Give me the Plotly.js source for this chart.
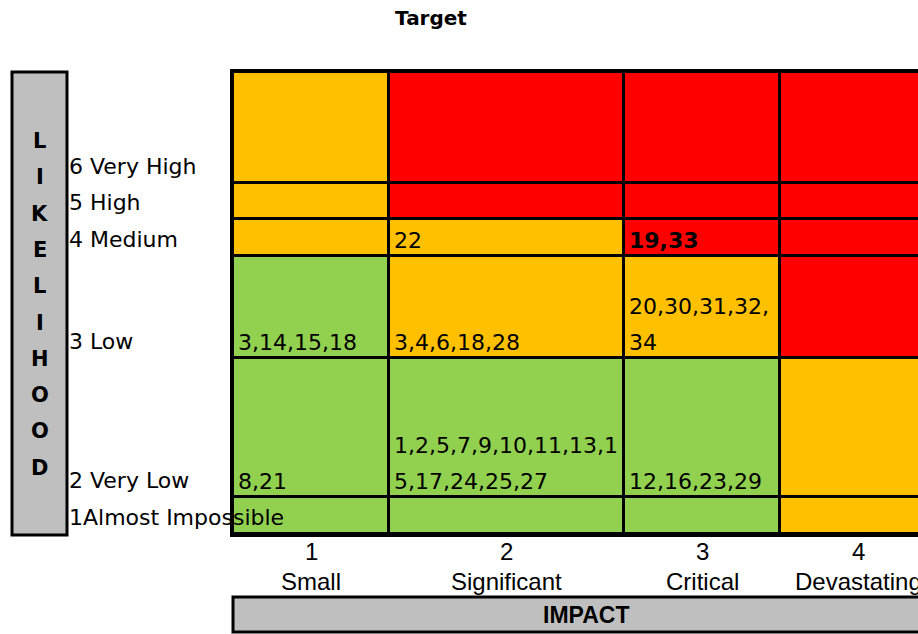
<!DOCTYPE html>
<html>
<head>
<meta charset="utf-8">
<script src="https://cdn.plot.ly/plotly-3.0.1.min.js"></script>
<style>
  html, body { margin: 0; padding: 0; background: #ffffff; overflow: hidden; }
  #chart { width: 918px; height: 634px; }
</style>
</head>
<body>
<div id="chart"></div>
<script>
// ---------------- data ----------------
const chartTitle = 'Target';
const impactLevels = ['1', '2', '3', '4'];
const impactNames = ['Small', 'Significant', 'Critical', 'Devastating'];
const likelihoodLabels = ['1Almost Impossible', '2 Very Low', '3 Low', '4 Medium', '5 High', '6 Very High'];
const likelihoodTitle = 'LIKELIHOOD';
const impactTitle = 'IMPACT';
// risk level per cell (0 = low/green, 1 = medium/amber, 2 = high/red), rows from likelihood 1 upwards
const riskLevel = [
  [0, 0, 0, 1],
  [0, 0, 0, 1],
  [0, 1, 1, 2],
  [1, 1, 2, 2],
  [1, 2, 2, 2],
  [1, 2, 2, 2]
];
// risk ids in each cell (rows from likelihood 1 upwards), "\n" = wrapped line
const cellRisks = [
  ['', '', '', ''],
  ['8,21', '1,2,5,7,9,10,11,13,1\n5,17,24,25,27', '12,16,23,29', ''],
  ['3,14,15,18', '3,4,6,18,28', '20,30,31,32,\n34', ''],
  ['', '22', '<b>19,33</b>', ''],
  ['', '', '', ''],
  ['', '', '', '']
];

// ---------------- layout geometry (pixels) ----------------
const W = 918, H = 634;
const ml = 233, mt = 72, pw = 685, ph = 462;
const mr = W - ml - pw, mb = H - mt - ph;
const colWidths = [156, 235, 156, 156];
const rowHeights = [37, 139, 102, 37, 36, 111];
const colEdges = [0];
colWidths.forEach(w => colEdges.push(colEdges[colEdges.length - 1] + w));
const rowEdges = [0];
rowHeights.forEach(h => rowEdges.push(rowEdges[rowEdges.length - 1] + h));
const px = x => (x - ml) / pw;
const py = y => (mt + ph - y) / ph;

const GREEN = '#92D050', AMBER = '#FFC000', RED = '#FF0000', GREY = '#BFBFBF';
const cellFont = 'DejaVu Sans, sans-serif';
const tickFont = 'Liberation Sans, Arial, sans-serif';

const trace = {
  type: 'heatmap',
  x: colEdges,
  y: rowEdges,
  z: riskLevel,
  zmin: 0, zmax: 2,
  colorscale: [[0, GREEN], [0.333, GREEN], [0.333, AMBER], [0.667, AMBER], [0.667, RED], [1, RED]],
  showscale: false,
  xgap: 3, ygap: 3,
  hoverinfo: 'skip'
};

const annotations = [];
const lineStep = 36;
cellRisks.forEach((row, r) => {
  row.forEach((txt, c) => {
    if (!txt) return;
    const lines = txt.split('\n');
    lines.forEach((ln, i) => {
      annotations.push({
        xref: 'x', yref: 'y', x: colEdges[c], y: rowEdges[r],
        xanchor: 'left', yanchor: 'bottom', xshift: 3,
        yshift: 1 + (lines.length - 1 - i) * lineStep,
        text: ln, showarrow: false,
        font: { family: cellFont, size: 22, color: '#000000' }
      });
    });
  });
});
likelihoodLabels.forEach((lab, r) => {
  annotations.push({
    xref: 'paper', yref: 'y', x: px(67), y: rowEdges[r],
    xanchor: 'left', yanchor: 'bottom', yshift: 2,
    text: lab, showarrow: false,
    font: { family: cellFont, size: 22, color: '#000000' }
  });
});
likelihoodTitle.split('').forEach((ch, i) => {
  annotations.push({
    xref: 'paper', yref: 'paper', x: px(39.5), y: py(141 + i * 36.3),
    xanchor: 'center', yanchor: 'middle',
    text: '<b>' + ch + '</b>', showarrow: false,
    font: { family: cellFont, size: 21, color: '#000000' }
  });
});
// impact tick labels (level number and name), placed on the x axis scale
const tickvals = colWidths.map((w, i) => colEdges[i] + w / 2);
impactLevels.forEach((lv, i) => {
  annotations.push({
    xref: 'x', yref: 'paper', x: tickvals[i], y: py(551),
    xanchor: 'center', yanchor: 'middle', text: lv, showarrow: false,
    font: { family: tickFont, size: 24, color: '#000000' }
  });
  annotations.push({
    xref: 'x', yref: 'paper', x: tickvals[i], y: py(581),
    xanchor: 'center', yanchor: 'middle', text: impactNames[i], showarrow: false,
    font: { family: tickFont, size: 24, color: '#000000' }
  });
});
annotations.push({
  xref: 'paper', yref: 'paper', x: px(586), y: py(615),
  xanchor: 'center', yanchor: 'middle',
  text: '<b>' + impactTitle + '</b>', showarrow: false,
  font: { family: tickFont, size: 23, color: '#000000' }
});

const shapes = [
  { type: 'rect', xref: 'paper', yref: 'paper', x0: px(12), x1: px(67), y0: py(535), y1: py(72),
    fillcolor: GREY, line: { color: '#000000', width: 3 }, layer: 'above' },
  { type: 'rect', xref: 'paper', yref: 'paper', x0: px(233), x1: px(960), y0: py(632), y1: py(597),
    fillcolor: GREY, line: { color: '#000000', width: 3 }, layer: 'below' }
];

const layout = {
  width: W, height: H,
  margin: { l: ml, r: mr, t: mt, b: mb, pad: 0 },
  paper_bgcolor: '#ffffff',
  plot_bgcolor: '#000000',
  showlegend: false,
  title: {
    text: '<b>' + chartTitle + '</b>',
    x: 431 / W, xanchor: 'center', xref: 'container',
    y: 1 - 18 / H, yanchor: 'middle', yref: 'container',
    font: { family: cellFont, size: 20, color: '#000000' }
  },
  xaxis: {
    range: [0, pw], showgrid: false, zeroline: false,
    showline: true, mirror: true, linecolor: '#000000', linewidth: 3,
    showticklabels: false, ticks: '', fixedrange: true
  },
  yaxis: {
    range: [0, ph], showgrid: false, zeroline: false,
    showline: true, mirror: false, linecolor: '#000000', linewidth: 3,
    showticklabels: false, ticks: '', fixedrange: true
  },
  shapes: shapes,
  annotations: annotations
};

Plotly.newPlot('chart', [trace], layout, { displayModeBar: false, staticPlot: true });
</script>
</body>
</html>
